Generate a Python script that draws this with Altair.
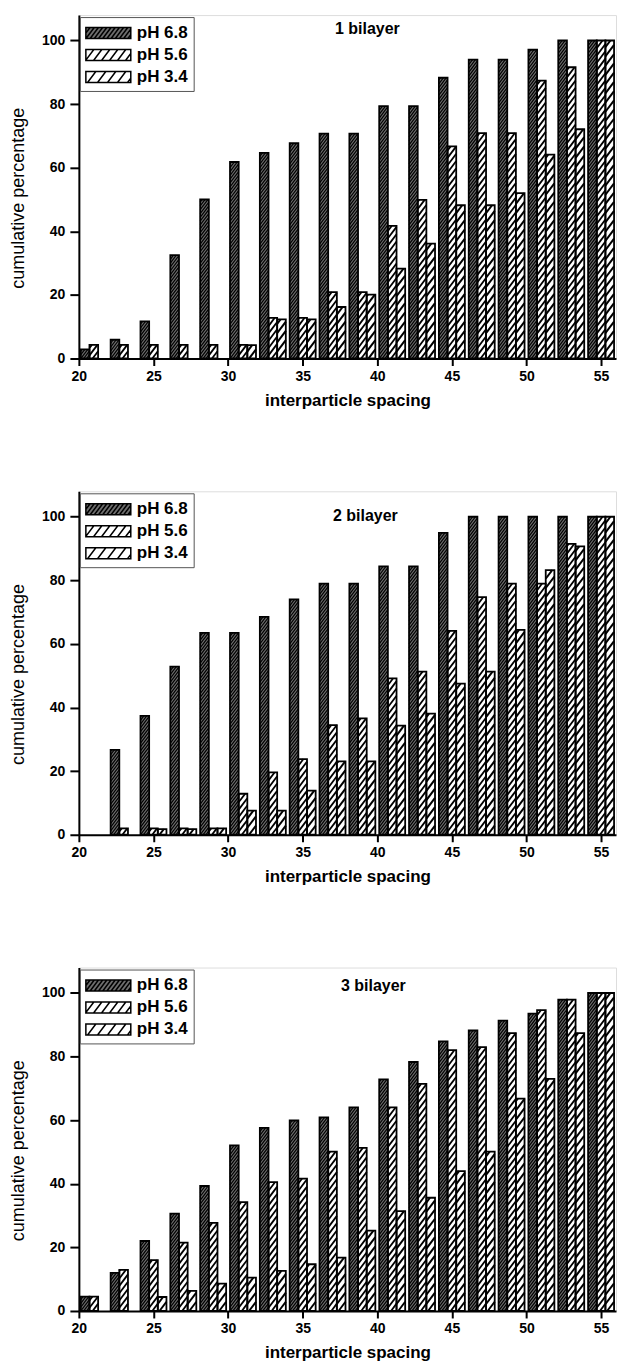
import altair as alt
import pandas as pd

# ---------------- data ----------------
spacing = [21, 23, 25, 27, 29, 31, 33, 35, 37, 39, 41, 43, 45, 47, 49, 51, 53, 55]
series_names = ["pH 6.8", "pH 5.6", "pH 3.4"]
panel_titles = ["1 bilayer", "2 bilayer", "3 bilayer"]

b1_ph68 = [2.9, 5.9, 11.7, 32.5, 50.0, 61.8, 64.7, 67.7, 70.7, 70.7, 79.4, 79.4, 88.3, 94.0, 94.0, 97.1, 100, 100]
b1_ph56 = [4.3, 4.3, 4.3, 4.3, 4.3, 4.3, 12.8, 12.8, 20.9, 20.9, 41.7, 49.9, 66.7, 70.9, 70.9, 87.4, 91.6, 100]
b1_ph34 = [0, 0, 0, 0, 0, 4.2, 12.3, 12.3, 16.2, 20.1, 28.3, 36.1, 48.2, 48.2, 52.0, 64.1, 72.1, 100]

b2_ph68 = [0, 26.7, 37.4, 52.9, 63.5, 63.5, 68.5, 74.0, 79.0, 79.0, 84.4, 84.4, 94.9, 100, 100, 100, 100, 100]
b2_ph56 = [0, 2.0, 2.0, 2.0, 2.0, 12.9, 19.6, 23.8, 34.5, 36.6, 49.2, 51.3, 64.1, 74.7, 79.0, 79.0, 91.5, 100]
b2_ph34 = [0, 0, 1.8, 1.8, 2.0, 7.6, 7.6, 13.9, 23.1, 23.1, 34.3, 38.1, 47.5, 51.3, 64.4, 83.2, 90.7, 100]

b3_ph68 = [4.5, 12.0, 22.0, 30.6, 39.3, 52.1, 57.6, 59.9, 60.9, 64.0, 72.8, 78.3, 84.8, 88.2, 91.3, 93.5, 97.9, 100]
b3_ph56 = [4.5, 12.9, 16.0, 21.5, 27.7, 34.2, 40.5, 41.6, 50.1, 51.3, 64.0, 71.4, 82.0, 83.0, 87.4, 94.6, 97.9, 100]
b3_ph34 = [0, 0, 4.4, 6.3, 8.6, 10.5, 12.6, 14.7, 16.8, 25.3, 31.4, 35.6, 44.0, 50.1, 66.8, 73.0, 87.4, 100]

panel_values = [
    [b1_ph68, b1_ph56, b1_ph34],
    [b2_ph68, b2_ph56, b2_ph34],
    [b3_ph68, b3_ph56, b3_ph34],
]

# ---------------- style ----------------
FONT = "Liberation Sans"
BAR_W = 0.58                      # width of one bar in x units
SLOT = {"pH 6.8": -1, "pH 5.6": 0, "pH 3.4": 1}
FILL = {"pH 6.8": "#6e6e6e", "pH 5.6": "white", "pH 3.4": "white"}
HATCH_PERIOD = {"pH 6.8": 1.2, "pH 5.6": 2.3, "pH 3.4": 2.9}   # y units
HATCH_WIDTH = {"pH 6.8": 1.2, "pH 5.6": 1.8, "pH 3.4": 2.0}
RISE = 3.6                        # y units a hatch line rises across a bar
SYM_PERIOD = {"pH 6.8": 0.42, "pH 5.6": 0.8, "pH 3.4": 1.0}
TITLE_DX = [20, 18, 26]
TITLE_OFFSET = [-22, -33, -27]


def hatch_segments(x0, x1, v, period, rise):
    segs = []
    k = 0
    while True:
        ys = -rise + k * period
        if ys >= v:
            break
        t0 = max(0.0, (0 - ys) / rise)
        t1 = min(1.0, (v - ys) / rise)
        if t1 > t0:
            segs.append((x0 + t0 * (x1 - x0), ys + t0 * rise,
                         x0 + t1 * (x1 - x0), ys + t1 * rise))
        k += 1
    return segs


def symbol_path(period, left=-1.0, right=3.5, hh=0.55, slant=0.83):
    p = f"M{left},{-hh}H{right}V{hh}H{left}Z"
    a = left - slant
    while a < right:
        t0 = max(0.0, (left - a) / slant)
        t1 = min(1.0, (right - a) / slant)
        if t1 > t0:
            xa, ya = a + t0 * slant, hh - t0 * 2 * hh
            xb, yb = a + t1 * slant, hh - t1 * 2 * hh
            p += f"M{xa:.3f},{ya:.3f}L{xb:.3f},{yb:.3f}"
        a += period
    return p


x_scale = alt.Scale(domain=[20, 56], nice=False, zero=False)
y_scale = alt.Scale(domain=[0, 108], nice=False)

x_axis = alt.Axis(
    values=[20 + 2.5 * i for i in range(15)],
    labelExpr="datum.value % 5 === 0 ? datum.label : ''",
    title="interparticle spacing",
    titleFont=FONT, titleFontSize=17, titleFontWeight="bold", titleColor="black",
    titlePadding=9,
    labelFont=FONT, labelFontSize=14, labelFontWeight="bold", labelColor="black",
    labelFlush=False, labelOverlap=False, labelPadding=4,
    tickSize={"condition": {"test": "datum.value % 5 !== 0", "value": 4}, "value": 7},
    tickWidth=2, tickColor="black", domainColor="black", domainWidth=2, grid=False,
)
y_axis = alt.Axis(
    values=list(range(0, 101, 10)),
    labelExpr="datum.value % 20 === 0 ? datum.label : ''",
    title="cumulative percentage",
    titleFont=FONT, titleFontSize=18, titleFontWeight="normal", titleColor="black",
    titlePadding=14, titleY=183,
    labelFont=FONT, labelFontSize=14, labelFontWeight="bold", labelColor="black",
    labelFlush=False, labelOverlap=False, labelPadding=5,
    tickSize={"condition": {"test": "datum.value % 20 !== 0", "value": 5}, "value": 9},
    tickWidth=2, tickColor="black", domainColor="black", domainWidth=2, grid=False,
)

legend_kw = dict(
    title=None, orient="none", legendX=1, legendY=2, direction="vertical",
    symbolSize=400, symbolStrokeColor="black", symbolStrokeWidth=1.5, symbolOpacity=1,
    labelFont=FONT, labelFontSize=17, labelFontWeight="bold", labelColor="black",
    labelOffset=30, rowPadding=2, padding=5, strokeColor="#555555", fillColor="white",
)


def make_panel(idx):
    vals = panel_values[idx]
    rows = []
    hatch_rows = []
    for s_i, s in enumerate(series_names):
        for xc, v in zip(spacing, vals[s_i]):
            if v <= 0:
                continue
            xm = xc + SLOT[s] * BAR_W
            x0, x1 = xm - BAR_W / 2, xm + BAR_W / 2
            rows.append({"series": s, "spacing": xc, "x0": x0, "x1": x1, "value": v})
            for (ax, ay, bx, by) in hatch_segments(x0, x1, v, HATCH_PERIOD[s], RISE):
                hatch_rows.append({"series": s, "hx": ax, "hy": ay, "hx2": bx, "hy2": by})
    bars = pd.DataFrame(rows)
    hatch = pd.DataFrame(hatch_rows)

    layers = []
    for s in series_names:
        layers.append(
            alt.Chart(bars).transform_filter(alt.datum.series == s)
            .mark_rect(fill=FILL[s], strokeWidth=0)
            .encode(x=alt.X("x0:Q", scale=x_scale, axis=x_axis), x2="x1:Q",
                    y=alt.Y("value:Q", scale=y_scale, axis=y_axis), y2=alt.datum(0))
        )
    for s in series_names:
        layers.append(
            alt.Chart(hatch).transform_filter(alt.datum.series == s)
            .mark_rule(color="black", strokeWidth=HATCH_WIDTH[s], strokeCap="butt")
            .encode(x=alt.X("hx:Q", scale=x_scale), x2="hx2:Q",
                    y=alt.Y("hy:Q", scale=y_scale), y2="hy2:Q")
        )
    layers.append(
        alt.Chart(bars).mark_rect(fillOpacity=0, stroke="black", strokeWidth=1.8)
        .encode(x=alt.X("x0:Q", scale=x_scale), x2="x1:Q",
                y=alt.Y("value:Q", scale=y_scale), y2=alt.datum(0))
    )
    legend = alt.Legend(**legend_kw)
    layers.append(
        alt.Chart(bars).transform_filter("false")
        .mark_point(filled=True, strokeWidth=1.5)
        .encode(
            x=alt.X("x0:Q", scale=x_scale), y=alt.Y("value:Q", scale=y_scale),
            fill=alt.Fill("series:N", scale=alt.Scale(domain=series_names,
                                                      range=[FILL[s] for s in series_names]),
                          legend=legend),
            stroke=alt.Stroke("series:N", scale=alt.Scale(domain=series_names,
                                                          range=["black"] * 3),
                              legend=legend),
            shape=alt.Shape("series:N", scale=alt.Scale(domain=series_names,
                                                        range=[symbol_path(SYM_PERIOD[s]) for s in series_names]),
                            legend=legend),
        )
    )
    return alt.layer(*layers).properties(
        width=538, height=344,
        title=alt.TitleParams(panel_titles[idx], anchor="middle", frame="group",
                              dx=TITLE_DX[idx], offset=TITLE_OFFSET[idx],
                              font=FONT, fontSize=16, fontWeight="bold", color="black"),
    )


chart = alt.vconcat(*[make_panel(i) for i in range(3)], spacing=81).resolve_scale(
    fill="independent", stroke="independent", shape="independent"
).resolve_legend(
    fill="independent", stroke="independent", shape="independent"
).properties(
    padding={"left": 9, "top": 13, "right": 0, "bottom": 0}
).configure_view(stroke=None).configure(background="white")

chart.save("out.html", embed_options={"renderer": "svg", "actions": False})
